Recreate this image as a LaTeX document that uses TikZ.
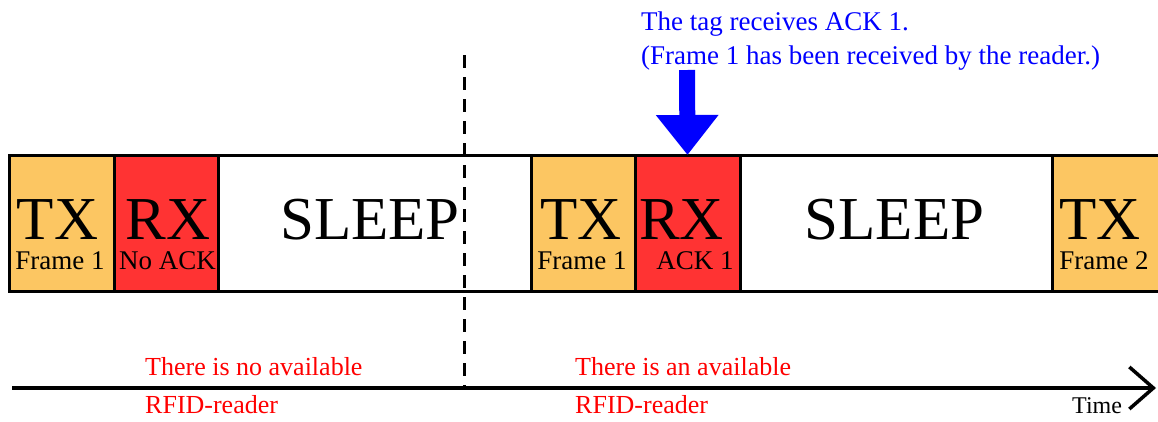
\documentclass[tikz,border=0pt]{standalone}
\usepackage{fontspec}
\setmainfont{Liberation Serif}
\usetikzlibrary{arrows.meta}
\definecolor{txorange}{RGB}{252,198,98}
\definecolor{rxred}{RGB}{255,51,51}

\begin{document}
\begin{tikzpicture}[x=1pt,y=1pt,yscale=-1,xscale=1,
  seg/.style={draw, line width=3pt, minimum height=136pt, inner sep=0pt, outer sep=0pt},
  txbox/.style={seg, fill=txorange},
  rxbox/.style={seg, fill=rxred},
  sleepbox/.style={seg},
  bigtext/.style={anchor=base, inner sep=0pt, font=\fontsize{61}{61}\selectfont},
  smalltext/.style={anchor=base, inner sep=0pt, font=\fontsize{27}{27}\selectfont},
  notetext/.style={anchor=base west, inner sep=0pt, text=blue, font=\fontsize{27}{27}\selectfont},
  readertext/.style={anchor=base west, inner sep=0pt, text=red, font=\fontsize{26}{26}\selectfont}]
\useasboundingbox (0,0) rectangle (1158,421);

%Shape: Rectangles (time slots)
\node[txbox, minimum width=105pt] (txa) at (61.5,223) {};
\node[rxbox, minimum width=104pt] (rxa) at (166,223) {};
\node[sleepbox, minimum width=313pt] (sleepa) at (374.5,223) {};
\node[txbox, minimum width=104pt] (txb) at (583,223) {};
\node[rxbox, minimum width=105pt] (rxb) at (687.5,223) {};
\node[sleepbox, minimum width=312pt] (sleepb) at (896,223) {};
\node[txbox, minimum width=120pt] (txc) at (1112,223) {};

% Text Node
\node[bigtext] (txaname) at (57.5,239) {TX};
\node[smalltext] (txaframe) at (60,269) {Frame 1};
\node[bigtext] (rxaname) at (168,239) {RX};
\node[smalltext] (rxaack) at (167.5,269) {No ACK};
\node[bigtext] (sleepaname) at (370,239) {SLEEP};
\node[bigtext] (txbname) at (581,239) {TX};
\node[smalltext] (txbframe) at (582,269) {Frame 1};
\node[bigtext] (rxbname) at (681.5,239) {RX};
\node[smalltext] (rxback) at (695,269) {ACK 1};
\node[bigtext] (sleepbname) at (894.5,239) {SLEEP};
\node[bigtext] (txcname) at (1100,239) {TX};
\node[smalltext] (txcframe) at (1104,269) {Frame 2};

%Straight Lines (reader boundary)
\coordinate (bounda) at (464,55);
\coordinate (boundb) at (464,390);
\draw[line width=3pt, dash pattern=on 13pt off 9pt] (bounda) -- (boundb);

%Straight Lines (time axis)
\coordinate (timea) at (12,388);
\coordinate (timeb) at (1156,388);
\draw[line width=3.5pt, -{Straight Barb[length=24pt,width=42pt]}] (timea) -- (timeb);
\node[anchor=base west, inner sep=0pt, font=\fontsize{24}{24}\selectfont] (timename) at (1072,413) {Time};

% Text Node
\node[notetext] (notea) at (641,30) {The tag receives ACK 1.};
\node[notetext] (noteb) at (641,64) {(Frame 1 has been received by the reader.)};

%Straight Lines (ACK arrow)
\coordinate (ackfrom) at (687,70);
\draw[blue, line width=16pt, -{Triangle[length=40pt,width=60pt]}] (ackfrom) -- (rxb.north);

% Text Node
\node[readertext] (noreadera) at (145,375) {There is no available};
\node[readertext] (noreaderb) at (145,413) {RFID-reader};
\node[readertext] (readera) at (575,375) {There is an available};
\node[readertext] (readerb) at (575,413) {RFID-reader};

\end{tikzpicture}
\end{document}
